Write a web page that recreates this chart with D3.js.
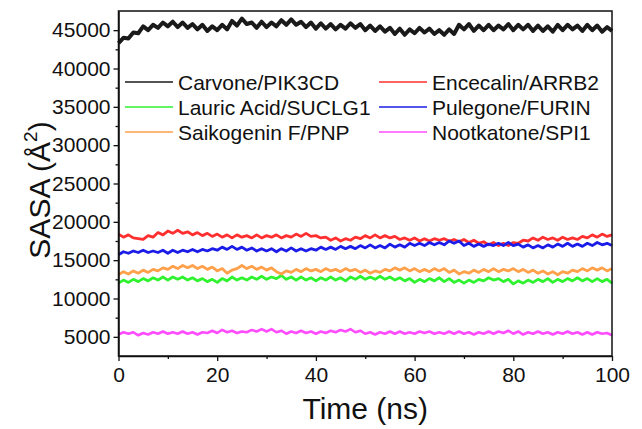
<!DOCTYPE html>
<html><head><meta charset="utf-8">
<script src="https://cdn.jsdelivr.net/npm/d3@7"></script>
<style>body{margin:0;background:#fff;} text{font-family:"Liberation Sans",Arial,sans-serif;fill:#111;}</style>
</head><body><svg id="c" width="642" height="429"></svg>
<script>
const seriesNames = ["Carvone/PIK3CD","Encecalin/ARRB2","Lauric Acid/SUCLG1","Pulegone/FURIN","Saikogenin F/PNP","Nootkatone/SPI1"];
const seriesColors = ["#1a1a1a","#ff2f2f","#2ff22f","#1c1ce8","#ffa04a","#ff4cff"];
const xTicks = [0,20,40,60,80,100];
const yTicks = [5000,10000,15000,20000,25000,30000,35000,40000,45000];

const carvone = [43300,44000,43900,44700,44600,45500,45000,45700,45300,46000,45500,46100,45400,46000,45300,45800,45100,45700,44900,45500,45000,45700,45100,46200,45600,46500,45800,46000,45300,46100,45400,46000,45500,46300,45700,46400,45700,46100,45400,46000,45200,45900,45200,45800,45100,45700,45200,45900,45300,45800,45000,45600,44900,45500,44800,45300,44500,45200,44400,45100,44600,45300,44700,45200,44500,45000,44400,45100,44500,45700,45100,45800,44900,45600,45000,45700,45000,45600,45100,45800,45000,45700,45100,45700,44900,45600,44900,45500,44800,45700,45000,45700,45100,45600,44900,45700,45000,45600,44800,45400,44900];
const encecalin = [18400,18000,18300,17900,17800,17700,18200,18000,18600,18300,18800,18500,18900,18500,18700,18300,18600,18200,18500,18100,18400,18000,18300,17900,18300,18000,18200,17900,18300,17900,18200,18000,18300,17900,18200,18000,18400,18100,18500,18100,18200,17900,18000,17600,17900,17500,17800,17600,18000,17800,18200,17900,18300,17900,18200,17900,18100,17700,17900,17600,17900,17500,17800,17500,17800,17600,17800,17500,17700,17400,17700,17300,17600,17200,17400,17000,17300,16900,17200,16900,17300,17200,17600,17500,17900,17600,18000,17700,17900,17600,18000,17700,17900,17700,18100,17900,18300,18000,18400,18100,18300];
const lauric = [12000,12400,12100,12500,12200,12600,12300,12700,12400,12800,12400,12800,12500,12800,12400,12700,12300,12600,12200,12500,12100,12600,12300,12800,12400,12700,12400,12800,12500,12900,12500,12800,12600,13000,12500,12800,12400,12800,12400,12700,12300,12700,12400,12800,12400,12700,12300,12800,12500,12900,12500,12800,12500,12900,12500,12800,12400,12700,12300,12600,12100,12500,12200,12600,12300,12700,12200,12600,12100,12400,12000,12400,12100,12500,12300,12700,12400,12600,12200,12500,11900,12300,12000,12400,12100,12500,12200,12600,12100,12500,12200,12600,12300,12700,12300,12600,12200,12600,12200,12500,12000];
const pulegone = [15700,16100,15900,16200,16000,16300,16000,16200,16000,16300,15900,16300,16000,16300,16100,16400,16100,16400,16200,16500,16300,16700,16400,16800,16400,16700,16300,16600,16200,16500,16200,16500,16100,16500,16200,16600,16200,16500,16200,16500,16300,16700,16400,16700,16400,16800,16500,16800,16500,16900,16600,17000,16600,16900,16600,17100,16700,17000,16700,17200,16900,17200,16900,17300,17000,17300,17000,17500,17200,17500,16900,17200,16800,17100,16800,17100,16900,17200,16900,17300,16900,17100,16700,17000,16600,16900,16600,17000,16700,17100,16800,17200,16800,17100,16800,17200,16900,17300,17000,17200,16900];
const saikogenin = [13100,13500,13200,13600,13300,13700,13400,13800,13600,14000,13800,14200,13900,14300,14000,14300,13900,14200,13800,14100,13600,13900,13300,13700,13900,14300,13900,14200,13800,14100,13700,14000,13500,13200,13600,13400,13800,13500,13900,13600,13800,13500,13900,13600,13800,13500,13900,13600,13800,13400,13700,13300,13600,13400,13800,13600,14000,13700,14000,13600,13900,13500,13800,13500,13900,13600,13900,13400,13700,13200,13500,13300,13700,13400,13800,13500,13900,13500,13800,13600,13900,13500,13800,13400,13700,13300,13600,13200,13500,13100,13500,13300,13700,13500,13900,13600,14000,13700,14000,13600,13900];
const nootkatone = [5300,5600,5400,5600,5200,5500,5300,5600,5400,5700,5400,5600,5400,5700,5400,5600,5300,5600,5500,5800,5500,5900,5600,5800,5500,5700,5600,5900,5700,6000,5700,6000,5600,5800,5400,5700,5500,5800,5500,5700,5400,5700,5500,5800,5600,5900,5700,6000,5600,5800,5400,5600,5300,5600,5400,5700,5400,5700,5400,5600,5400,5700,5500,5700,5400,5600,5400,5700,5400,5700,5400,5600,5300,5600,5400,5700,5400,5700,5500,5800,5400,5700,5300,5600,5400,5700,5400,5600,5300,5600,5400,5700,5400,5600,5300,5600,5300,5600,5400,5500,5200];
const seriesValues = [carvone, encecalin, lauric, pulegone, saikogenin, nootkatone];
const seriesWidths = [4, 2.8, 2.8, 2.8, 2.8, 2.6];

const svg = d3.select("#c");
const L = 118.5, R = 612, T = 11, B = 356;
const x = d3.scaleLinear().domain([0,100]).range([L,R]);
const y = d3.scaleLinear().domain([2500,47500]).range([B,T]);

// data lines
const line = d3.line().x(d=>x(d[0])).y(d=>y(d[1]));
seriesValues.forEach((vals,k)=>{
  const n = vals.length;
  const pts = vals.map((v,i)=>[i*100/(n-1), v]);
  svg.append("path").datum(pts).attr("d",line).attr("fill","none")
    .attr("stroke",seriesColors[k]).attr("stroke-width",seriesWidths[k]).attr("stroke-linejoin","round");
});

// frame
svg.append("rect").attr("x",L).attr("y",T).attr("width",R-L).attr("height",B-T)
  .attr("fill","none").attr("stroke","#111").attr("stroke-width",1.5);

const FONT = "Liberation Sans, Arial, sans-serif";
// x axis
const xAxis = d3.axisBottom(x).tickValues(xTicks).tickSize(5).tickSizeOuter(0).tickPadding(6).tickFormat(d3.format("d"));
const gx = svg.append("g").attr("transform",`translate(0,${B})`).call(xAxis);
gx.select(".domain").attr("stroke","#111").attr("stroke-width",1.5);
gx.selectAll(".tick line").attr("stroke","#111").attr("stroke-width",1.3);
gx.selectAll(".tick text").attr("font-size",21).attr("font-family",FONT).attr("fill","#111");
const gxm = svg.append("g").attr("transform",`translate(0,${B})`)
  .call(d3.axisBottom(x).tickValues([10,30,50,70,90]).tickSize(3).tickSizeOuter(0).tickFormat(""));
gxm.select(".domain").remove();
gxm.selectAll(".tick line").attr("stroke","#111").attr("stroke-width",1.3);

// y axis
const yAxis = d3.axisLeft(y).tickValues(yTicks).tickSize(5).tickSizeOuter(0).tickPadding(3).tickFormat(d3.format("d"));
const gy = svg.append("g").attr("transform",`translate(${L},0)`).call(yAxis);
gy.select(".domain").attr("stroke","#111").attr("stroke-width",1.5);
gy.selectAll(".tick line").attr("stroke","#111").attr("stroke-width",1.3);
gy.selectAll(".tick text").attr("font-size",21).attr("font-family",FONT).attr("fill","#111");
const gym = svg.append("g").attr("transform",`translate(${L},0)`)
  .call(d3.axisLeft(y).tickValues([7500,12500,17500,22500,27500,32500,37500,42500]).tickSize(3).tickSizeOuter(0).tickFormat(""));
gym.select(".domain").remove();
gym.selectAll(".tick line").attr("stroke","#111").attr("stroke-width",1.3);

// axis titles
svg.append("text").attr("x",(L+R)/2).attr("y",419).attr("text-anchor","middle")
  .attr("font-size",30).text("Time (ns)");
const yt = svg.append("text").attr("transform",`translate(50,${190}) rotate(-90)`)
  .attr("text-anchor","middle").attr("font-size",30);
yt.append("tspan").text("SASA (Å");
yt.append("tspan").attr("font-size",19).attr("dy",-13).text("2");
yt.append("tspan").attr("dy",13).text(")");

// legend
const legX = [125, 379], legY = [82, 107, 132];
seriesNames.forEach((name,k)=>{
  const col = k%2, row = Math.floor(k/2);
  const g = svg.append("g");
  g.append("line").attr("x1",legX[col]).attr("x2",legX[col]+48).attr("y1",legY[row]).attr("y2",legY[row])
    .attr("stroke",seriesColors[k]).attr("stroke-width",1.5);
  g.append("text").attr("x",legX[col]+53).attr("y",legY[row]+7.5).attr("font-size",21).text(name);
});
</script></body></html>
